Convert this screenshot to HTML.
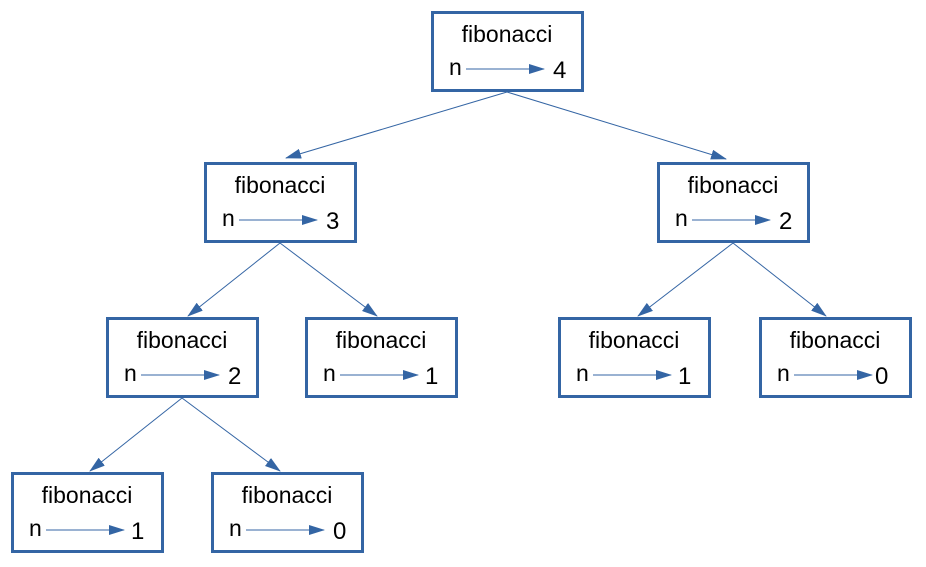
<!DOCTYPE html>
<html><head><style>body{margin:0;background:#fff}svg{display:block}</style></head><body>
<svg width="926" height="567" viewBox="0 0 926 567" xmlns="http://www.w3.org/2000/svg" font-family="Liberation Sans, sans-serif">
<defs>
<marker id="b" markerWidth="16" markerHeight="10" refX="15" refY="5" orient="auto" markerUnits="userSpaceOnUse"><path d="M0,0 L16,5 L0,10 z" fill="#3465a4"/></marker>
</defs>
<g stroke="#3465a4" stroke-width="1" marker-end="url(#b)">
<line x1="507" y1="92" x2="286" y2="158"/>
<line x1="507" y1="92" x2="726" y2="159"/>
<line x1="280" y1="243" x2="188" y2="316"/>
<line x1="280" y1="243" x2="377" y2="316"/>
<line x1="733" y1="243" x2="638" y2="316"/>
<line x1="733" y1="243" x2="826" y2="316"/>
<line x1="182" y1="398" x2="90" y2="471"/>
<line x1="182" y1="398" x2="280" y2="471"/>
</g>
<g font-size="23" fill="#000">
<g transform="translate(431,11)"><rect x="1.5" y="1.5" width="150" height="78" fill="#fff" stroke="#3465a4" stroke-width="3"/><text x="76" y="31" text-anchor="middle">fibonacci</text><text x="18" y="64">n</text><line x1="35" y1="58" x2="113" y2="58" stroke="#3465a4" marker-end="url(#b)"/><text x="122" y="67" font-size="24">4</text></g>
<g transform="translate(204,162)"><rect x="1.5" y="1.5" width="150" height="78" fill="#fff" stroke="#3465a4" stroke-width="3"/><text x="76" y="31" text-anchor="middle">fibonacci</text><text x="18" y="64">n</text><line x1="35" y1="58" x2="113" y2="58" stroke="#3465a4" marker-end="url(#b)"/><text x="122" y="67" font-size="24">3</text></g>
<g transform="translate(657,162)"><rect x="1.5" y="1.5" width="150" height="78" fill="#fff" stroke="#3465a4" stroke-width="3"/><text x="76" y="31" text-anchor="middle">fibonacci</text><text x="18" y="64">n</text><line x1="35" y1="58" x2="113" y2="58" stroke="#3465a4" marker-end="url(#b)"/><text x="122" y="67" font-size="24">2</text></g>
<g transform="translate(106,317)"><rect x="1.5" y="1.5" width="150" height="78" fill="#fff" stroke="#3465a4" stroke-width="3"/><text x="76" y="31" text-anchor="middle">fibonacci</text><text x="18" y="64">n</text><line x1="35" y1="58" x2="113" y2="58" stroke="#3465a4" marker-end="url(#b)"/><text x="122" y="67" font-size="24">2</text></g>
<g transform="translate(305,317)"><rect x="1.5" y="1.5" width="150" height="78" fill="#fff" stroke="#3465a4" stroke-width="3"/><text x="76" y="31" text-anchor="middle">fibonacci</text><text x="18" y="64">n</text><line x1="35" y1="58" x2="113" y2="58" stroke="#3465a4" marker-end="url(#b)"/><text x="120" y="67" font-size="24">1</text></g>
<g transform="translate(558,317)"><rect x="1.5" y="1.5" width="150" height="78" fill="#fff" stroke="#3465a4" stroke-width="3"/><text x="76" y="31" text-anchor="middle">fibonacci</text><text x="18" y="64">n</text><line x1="35" y1="58" x2="113" y2="58" stroke="#3465a4" marker-end="url(#b)"/><text x="120" y="67" font-size="24">1</text></g>
<g transform="translate(759,317)"><rect x="1.5" y="1.5" width="150" height="78" fill="#fff" stroke="#3465a4" stroke-width="3"/><text x="76" y="31" text-anchor="middle">fibonacci</text><text x="18" y="64">n</text><line x1="35" y1="58" x2="113" y2="58" stroke="#3465a4" marker-end="url(#b)"/><text x="116" y="67" font-size="24">0</text></g>
<g transform="translate(11,472)"><rect x="1.5" y="1.5" width="150" height="78" fill="#fff" stroke="#3465a4" stroke-width="3"/><text x="76" y="31" text-anchor="middle">fibonacci</text><text x="18" y="64">n</text><line x1="35" y1="58" x2="113" y2="58" stroke="#3465a4" marker-end="url(#b)"/><text x="120" y="67" font-size="24">1</text></g>
<g transform="translate(211,472)"><rect x="1.5" y="1.5" width="150" height="78" fill="#fff" stroke="#3465a4" stroke-width="3"/><text x="76" y="31" text-anchor="middle">fibonacci</text><text x="18" y="64">n</text><line x1="35" y1="58" x2="113" y2="58" stroke="#3465a4" marker-end="url(#b)"/><text x="122" y="67" font-size="24">0</text></g>
</g>
</svg>
</body></html>
